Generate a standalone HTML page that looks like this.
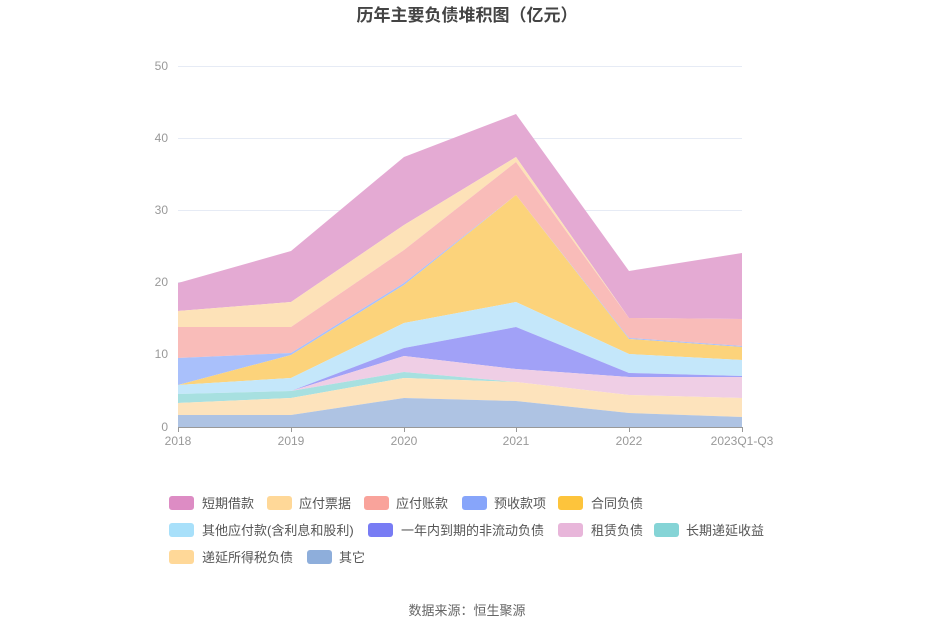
<!DOCTYPE html>
<html><head><meta charset="utf-8"><style>
body{margin:0;background:#fff;}
svg text{font-family:"Liberation Sans","Noto Sans CJK SC",sans-serif;}
</style></head><body>
<svg width="935" height="632" viewBox="0 0 935 632" xmlns="http://www.w3.org/2000/svg">
<text x="467" y="21" text-anchor="middle" font-size="17" font-weight="bold" fill="#444">历年主要负债堆积图（亿元）</text>
<g stroke="#e6ebf5" stroke-width="1">
<line x1="178" x2="742" y1="66.5" y2="66.5"/><line x1="178" x2="742" y1="138.5" y2="138.5"/>
<line x1="178" x2="742" y1="210.5" y2="210.5"/><line x1="178" x2="742" y1="282.5" y2="282.5"/>
<line x1="178" x2="742" y1="354.5" y2="354.5"/>
</g>
<g font-size="12" fill="#999" text-anchor="end">
<text x="168" y="70">50</text><text x="168" y="142">40</text><text x="168" y="214">30</text>
<text x="168" y="286">20</text><text x="168" y="358">10</text><text x="168" y="431">0</text>
</g>
<g>
<polygon fill="#e4aad3" points="178,283 291,251 404,157 516,114 629,271 742,253 742,319 629,318 516,157 404,225 291,302 178,311"/>
<polygon fill="#fde2b8" points="178,311 291,302 404,225 516,157 629,318 742,319 742,319 629,318 516,162 404,250 291,327 178,327"/>
<polygon fill="#f9bcb9" points="178,327 291,327 404,250 516,162 629,318 742,319 742,346 629,338 516,195 404,283 291,353 178,358"/>
<polygon fill="#a9c0fb" points="178,358 291,353 404,283 516,195 629,338 742,346 742,347 629,339 516,195 404,285 291,355 178,385"/>
<polygon fill="#fcd37b" points="178,385 291,355 404,285 516,195 629,339 742,347 742,360 629,354 516,302 404,323 291,378 178,385"/>
<polygon fill="#c4e7fa" points="178,385 291,378 404,323 516,302 629,354 742,360 742,376 629,373 516,327 404,348 291,391 178,394"/>
<polygon fill="#a1a1f7" points="178,394 291,391 404,348 516,327 629,373 742,376 742,377 629,377 516,369 404,356 291,391 178,394"/>
<polygon fill="#efcee5" points="178,394 291,391 404,356 516,369 629,377 742,377 742,398 629,395 516,382 404,372 291,391 178,394"/>
<polygon fill="#a7e0e0" points="178,394 291,391 404,372 516,382 629,395 742,398 742,398 629,395 516,382 404,378 291,398 178,403"/>
<polygon fill="#fde3bc" points="178,403 291,398 404,378 516,382 629,395 742,398 742,417 629,413 516,401 404,398 291,415 178,415"/>
<polygon fill="#aec3e3" points="178,415 291,415 404,398 516,401 629,413 742,417 742,427 178,427"/>
</g>
<line x1="178" x2="742" y1="427.5" y2="427.5" stroke="#999"/>
<g stroke="#999">
<line x1="178.5" x2="178.5" y1="427" y2="432"/><line x1="291.5" x2="291.5" y1="427" y2="432"/>
<line x1="404.5" x2="404.5" y1="427" y2="432"/><line x1="516.5" x2="516.5" y1="427" y2="432"/>
<line x1="629.5" x2="629.5" y1="427" y2="432"/><line x1="742.5" x2="742.5" y1="427" y2="432"/>
</g>
<g font-size="12" fill="#999" text-anchor="middle">
<text x="178" y="445">2018</text><text x="291" y="445">2019</text><text x="404" y="445">2020</text>
<text x="516" y="445">2021</text><text x="629" y="445">2022</text><text x="742" y="445">2023Q1-Q3</text>
</g>
<g font-size="13" fill="#555">
<rect x="169" y="496" width="25" height="14" rx="3" fill="#dd8cc4"/><text x="202" y="508">短期借款</text>
<rect x="267" y="496" width="25" height="14" rx="3" fill="#ffd898"/><text x="299" y="508">应付票据</text>
<rect x="364" y="496" width="25" height="14" rx="3" fill="#f9a39b"/><text x="396" y="508">应付账款</text>
<rect x="462" y="496" width="25" height="14" rx="3" fill="#87a5fa"/><text x="494" y="508">预收款项</text>
<rect x="558" y="496" width="25" height="14" rx="3" fill="#fdc43c"/><text x="591" y="508">合同负债</text>
<rect x="169" y="523" width="25" height="14" rx="3" fill="#a8e0fa"/><text x="202" y="535">其他应付款(含利息和股利)</text>
<rect x="368" y="523" width="25" height="14" rx="3" fill="#787cf4"/><text x="401" y="535">一年内到期的非流动负债</text>
<rect x="558" y="523" width="25" height="14" rx="3" fill="#e8b6da"/><text x="591" y="535">租赁负债</text>
<rect x="654" y="523" width="25" height="14" rx="3" fill="#85d4d6"/><text x="686" y="535">长期递延收益</text>
<rect x="169" y="550" width="25" height="14" rx="3" fill="#ffd898"/><text x="202" y="562">递延所得税负债</text>
<rect x="307" y="550" width="25" height="14" rx="3" fill="#8eaedb"/><text x="339" y="562">其它</text>
</g>
<text x="467" y="615" text-anchor="middle" font-size="13" fill="#666">数据来源：恒生聚源</text>
</svg>
</body></html>
